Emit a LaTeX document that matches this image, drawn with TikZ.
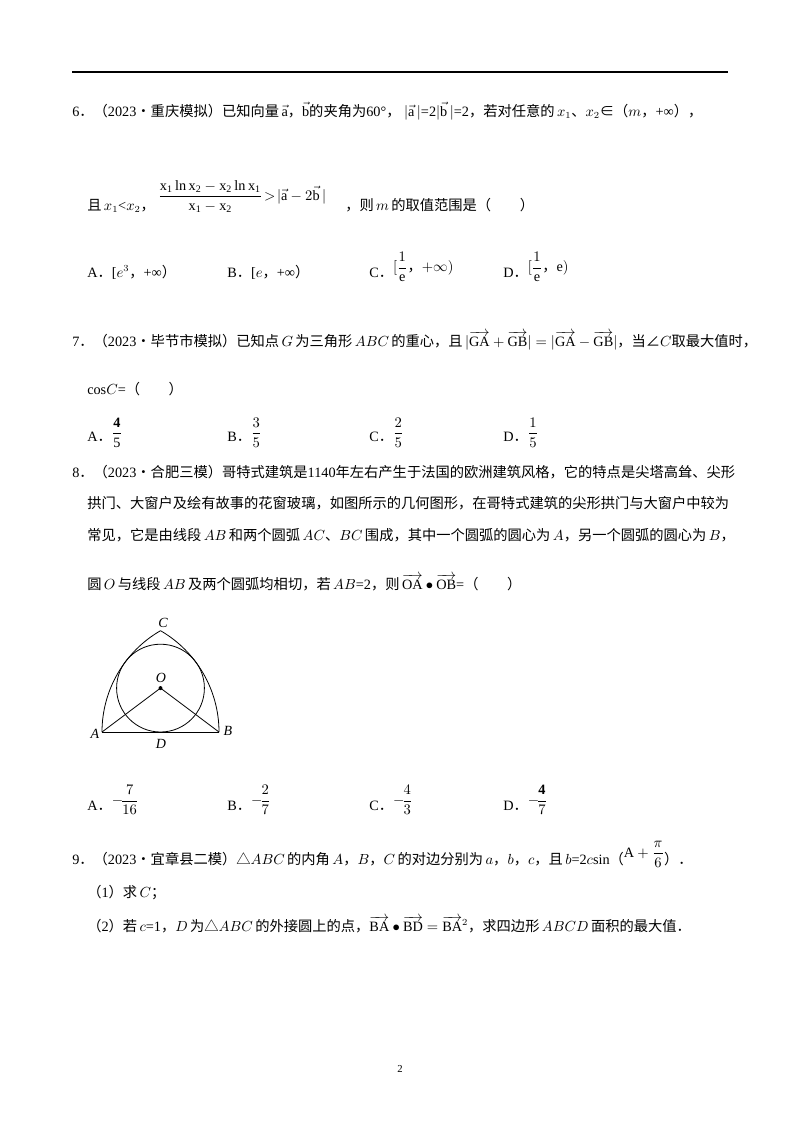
\documentclass[tikz,border=0pt]{standalone}
\usepackage{amsmath}
\usepackage{fontspec}
\setmainfont{Liberation Serif}
\newfontfamily\cjk{Noto Sans CJK SC}
\newcommand{\zh}[1]{{\cjk #1}}
\newcommand{\vv}[1]{\overrightarrow{\mathrm{#1}}}
\begin{document}
\begin{tikzpicture}[x=0.75pt,y=-0.75pt,
  txt/.style={anchor=base west,inner sep=0pt,font=\fontsize{10.7}{12}\selectfont},
  fig/.style={line width=0.6pt}]
\useasboundingbox (0,0) rectangle (800,1132);
\fill[white] (0,0) rectangle (800,1132);
\draw[line width=1.2pt] (72,72) -- (728,72);
% Q6
\node[txt] (q6) at (72,116) {6\zh{．（}2023\zh{•重庆模拟）已知向量}\,$\vec{\mathrm a}$\zh{，}$\vec{\mathrm b}$\zh{的夹角为}60°\zh{，}\ $|\vec{\mathrm a}\,|$=2$|\vec{\mathrm b}\,|$=2\zh{，若对任意的}\,$x_1$\zh{、}$x_2$\zh{∈（}$m$\zh{，}+∞\zh{），}};
\node[txt] (q6b) at (87,210) {\zh{且}\,$x_1$<$x_2$\zh{，}};
\node[txt] (frac) at (158,200) {$\dfrac{\mathrm{x_1\,ln\,x_2 - x_2\,ln\,x_1}}{\mathrm{x_1-x_2}}\!>\!|\vec{\mathrm a}-2\vec{\mathrm b}\,|$};
\node[txt] (q6c) at (345,210) {\zh{，则}\,$m$\,\zh{的取值范围是（\qquad）}};
\node[txt] (a6) at (87,277) {A\zh{．}[$e^3$\zh{，}+∞\zh{）}};
\node[txt] (b6) at (227,277) {B\zh{．}[$e$\zh{，}+∞\zh{）}};
\node[txt] (c6) at (369,277) {C\zh{．}\raisebox{4pt}{$[\dfrac{1}{\mathrm e}$\zh{，}$+\infty)$}};
\node[txt] (d6) at (503,277) {D\zh{．}\raisebox{4pt}{$[\dfrac{1}{\mathrm e}$\zh{，}$\mathrm e)$}};
% Q7
\node[txt] (q7) at (72,346) {7\zh{．（}2023\zh{•毕节市模拟）已知点}\,$G$\,\zh{为三角形}\,$ABC$\,\zh{的重心，且}\,$|\vv{GA}+\vv{GB}|=|\vv{GA}-\vv{GB}|$\zh{，当∠}$C$\zh{取最大值时，}};
\node[txt] (q7b) at (87,394) {cos$C$=\zh{（\qquad）}};
\node[txt] (a7) at (87,441) {A\zh{．}\raisebox{3pt}{$\dfrac{\mathbf 4}{\mathrm 5}$}};
\node[txt] (b7) at (227,441) {B\zh{．}\raisebox{3pt}{$\dfrac{3}{5}$}};
\node[txt] (c7) at (369,441) {C\zh{．}\raisebox{3pt}{$\dfrac{2}{5}$}};
\node[txt] (d7) at (503,441) {D\zh{．}\raisebox{3pt}{$\dfrac{1}{5}$}};
% Q8
\node[txt] (q8a) at (72,477) {8\zh{．（}2023\zh{•合肥三模）哥特式建筑是}1140\zh{年左右产生于法国的欧洲建筑风格，它的特点是尖塔高耸、尖形}};
\node[txt] (q8b) at (87,508) {\zh{拱门、大窗户及绘有故事的花窗玻璃，如图所示的几何图形，在哥特式建筑的尖形拱门与大窗户中较为}};
\node[txt] (q8c) at (87,540) {\zh{常见，它是由线段}\,$AB$\,\zh{和两个圆弧}\,$AC$\zh{、}$BC$\,\zh{围成，其中一个圆弧的圆心为}\,$A$\zh{，另一个圆弧的圆心为}\,$B$\zh{，}};
\node[txt] (q8d) at (87,589) {\zh{圆}\,$O$\,\zh{与线段}\,$AB$\,\zh{及两个圆弧均相切，若}\,$AB$=2\zh{，则}\,$\vv{OA}\bullet\vv{OB}$=\zh{（\qquad）}};
% figure
\coordinate (A) at (102,732);
\coordinate (B) at (219,732);
\coordinate (O) at (160.5,688.1);
\draw[fig] (A) -- (B);
\draw[fig] (A) arc[start angle=180,end angle=240,radius=117];
\draw[fig] (B) arc[start angle=0,end angle=-60,radius=117];
\draw[fig] (O) circle[radius=43.9];
\draw[fig] (A) -- (O) -- (B);
\fill (O) circle[radius=2];
\node[font=\itshape\fontsize{10.5}{12}\selectfont] (lC) at (163,623) {C};
\node[font=\itshape\fontsize{10.5}{12}\selectfont] (lO) at (161,678) {O};
\node[font=\itshape\fontsize{10.5}{12}\selectfont] (lA) at (95,734) {A};
\node[font=\itshape\fontsize{10.5}{12}\selectfont] (lB) at (228,731) {B};
\node[font=\itshape\fontsize{10.5}{12}\selectfont] (lD) at (161,744) {D};
% Q8 options
\node[txt] (a8) at (87,810) {A\zh{．}\raisebox{4pt}{$-\!\dfrac{7}{16}$}};
\node[txt] (b8) at (227,810) {B\zh{．}\raisebox{4pt}{$-\!\dfrac{2}{7}$}};
\node[txt] (c8) at (369,810) {C\zh{．}\raisebox{4pt}{$-\!\dfrac{4}{3}$}};
\node[txt] (d8) at (503,810) {D\zh{．}\raisebox{4pt}{$-\!\dfrac{\mathbf 4}{7}$}};
% Q9
\node[txt] (q9) at (72,864) {9\zh{．（}2023\zh{•宜章县二模）△}$ABC$\,\zh{的内角}\,$A$\zh{，}$B$\zh{，}$C$\,\zh{的对边分别为}\,$a$\zh{，}$b$\zh{，}$c$\zh{，且}\,$b$=2$c$sin\zh{（}\raisebox{5pt}{$\mathrm A+\dfrac{\pi}{6}$}\zh{）．}};
\node[txt] (q91) at (87,897) {\zh{（}1\zh{）求}\,$C$\zh{；}};
\node[txt] (q92) at (87,931) {\zh{（}2\zh{）若}\,$c$=1\zh{，}$D$\,\zh{为△}$ABC$\,\zh{的外接圆上的点，}$\vv{BA}\bullet\vv{BD}=\vv{BA}^2$\zh{，求四边形}\,$ABCD$\,\zh{面积的最大值．}};
\node[txt] (pg) at (397,1072) {\fontsize{8}{9}\selectfont 2};
\end{tikzpicture}
\end{document}
